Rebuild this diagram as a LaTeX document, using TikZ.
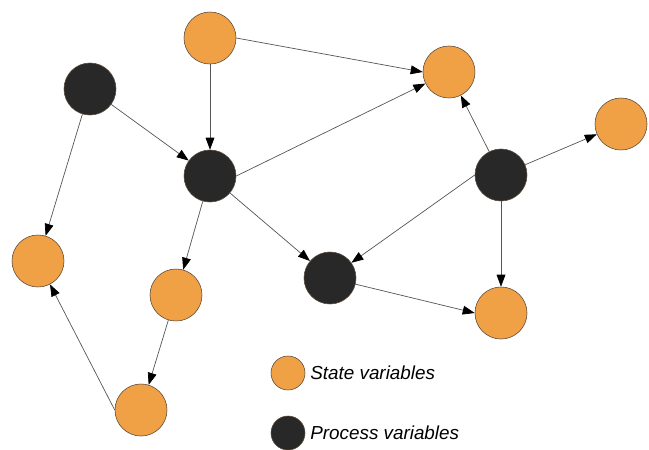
\documentclass[tikz,border=0pt]{standalone}
\usepackage{fontspec}
\setmainfont{Liberation Sans}
\usetikzlibrary{arrows.meta, positioning}

\definecolor{stateorange}{HTML}{F0A045}
\definecolor{procblack}{HTML}{282828}
\definecolor{rimgray}{HTML}{5A4A3A}
\definecolor{linkgray}{HTML}{555555}

\begin{document}
\begin{tikzpicture}[x=0.025cm, y=-0.025cm,
        statevar/.style = {circle, draw = rimgray, line width = 0.4pt, fill = stateorange, minimum size = 1.3cm, inner sep = 0pt},
        procvar/.style = {circle, draw = rimgray, line width = 0.4pt, fill = procblack, minimum size = 1.3cm, inner sep = 0pt},
        link/.style = {draw = linkgray, line width = 0.5pt, -{Triangle[length = 0.3cm, width = 0.22cm, color = black]}}
    ]
            \useasboundingbox (0,0) rectangle (649,449);
            % state variables
            \node[statevar] (sTop) at (210,38) {};
            \node[statevar] (sTopRight) at (449,72) {};
            \node[statevar] (sFarRight) at (621,124) {};
            \node[statevar] (sLeft) at (38,261) {};
            \node[statevar] (sMid) at (176,295) {};
            \node[statevar] (sBottomRight) at (501,313) {};
            \node[statevar] (sBottom) at (141,410) {};
            % process variables
            \node[procvar] (pTopLeft) at (90,89) {};
            \node[procvar] (pCenter) at (210,176) {};
            \node[procvar] (pRight) at (501,175) {};
            \node[procvar] (pMid) at (330,278) {};
            % links
            \draw[link] (sTop) -- (pCenter);
            \draw[link] (sTop.east) -- (sTopRight.west);
            \draw[link] (pTopLeft) -- (pCenter);
            \draw[link] (pTopLeft) -- (sLeft);
            \draw[link] (pCenter.east) -- (sTopRight);
            \draw[link] (pCenter) -- (sMid);
            \draw[link] (pCenter) -- (pMid);
            \draw[link] (pRight) -- (sTopRight);
            \draw[link] (pRight) -- (sFarRight);
            \draw[link] (pRight.west) -- (pMid);
            \draw[link] (pRight) -- (sBottomRight);
            \draw[link] (pMid) -- (sBottomRight.west);
            \draw[link] (sMid) -- (sBottom);
            \draw[link] (sBottom.west) -- (sLeft);
            % legend
            \node[statevar, minimum size = 0.85cm] (keyState) at (288,373) {};
            \node[procvar, minimum size = 0.85cm] (keyProc) at (288,433) {};
            \node[anchor = west, inner sep = 0pt, font = \fontsize{13.4}{16}\selectfont\itshape] at ([xshift = 0.12cm]keyState.east) {State variables};
            \node[anchor = west, inner sep = 0pt, font = \fontsize{13.4}{16}\selectfont\itshape] at ([xshift = 0.12cm]keyProc.east) {Process variables};
        \end{tikzpicture}
\end{document}
